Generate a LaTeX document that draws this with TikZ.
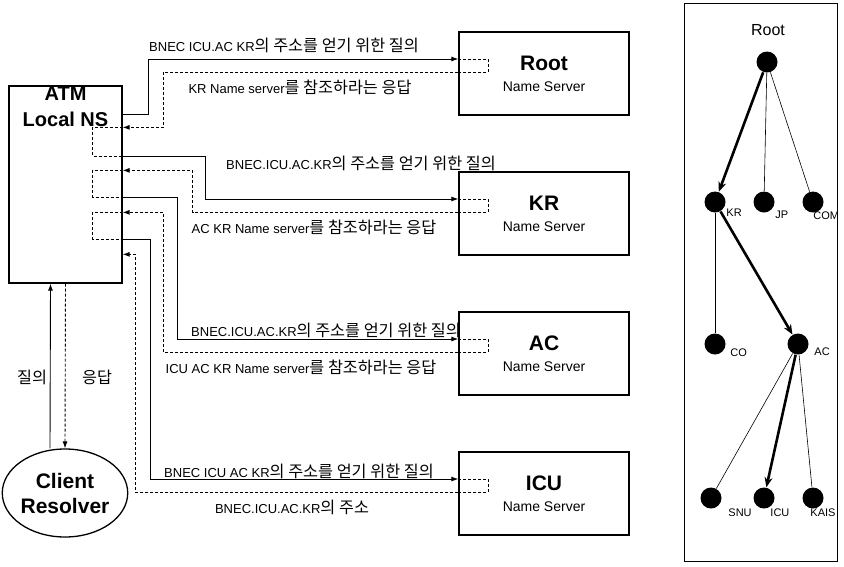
\documentclass[tikz,border=0pt]{standalone}
\usepackage{fontspec}
\setmainfont{Liberation Sans}
\newfontfamily\kr[Scale=1.25]{Noto Sans CJK KR}
\usetikzlibrary{arrows.meta, shapes.geometric, calc}
\tikzset{
  every picture/.style={line width=0.9pt},
  box/.style={draw, line width=1.3pt, align=center, inner sep=0pt},
  server/.style={box, minimum width=170pt, minimum height=83pt, font=\fontsize{14}{21}\selectfont},
  query/.style={-{Latex[length=7pt, width=5pt]}},
  bracket/.style={dash pattern=on 3pt off 2pt},
  reply/.style={bracket, -{Latex[length=7pt, width=5pt]}},
  msg/.style={font=\fontsize{13}{15}\selectfont, inner sep=0pt},
  dot/.style={circle, fill, minimum size=21pt, inner sep=0pt},
  edge/.style={line width=0.6pt},
  hop/.style={line width=2.6pt, -{Stealth[length=10pt, width=8pt]}},
  lbl/.style={font=\fontsize{11}{13}\selectfont, inner sep=0pt},
}

\begin{document}
\begin{tikzpicture}[x=1pt, y=-1pt]
  \useasboundingbox (0,0) rectangle (844,566);
  % local name server and client
  \node[box, minimum width=113pt, minimum height=197pt,
    label={[anchor=north, align=center, inner sep=1pt, font=\fontsize{20}{26}\selectfont\bfseries]north:ATM\\Local NS}]
    (atm) at (65.5,184.5) {};
  \node[box, ellipse, minimum width=114pt, minimum height=88pt, font=\fontsize{21}{25}\selectfont\bfseries]
    (client) at (65,493) {Client\\Resolver};
  \draw[query] ([xshift=-15pt]client.north) -- ([xshift=-15pt]atm.south);
  \draw[reply] (atm.south) -- (client.north);
  \node[msg] (ask) at (32,377) {\kr 질의};
  \node[msg] (answer) at (97,377) {\kr 응답};
  % name servers
  \foreach \n/\t [count=\i] in {root/Root, kr/KR, ac/AC, icu/ICU}
    \node[server] (ns-\n) at (544, 140*\i-66.5)
      {{\fontsize{21}{24}\selectfont\bfseries \t}\\Name Server};
  \foreach \n in {root, kr, ac, icu} {
    \path ([yshift=14.5pt]ns-\n.west) coordinate (\n-in)
          ([yshift=1.5pt]ns-\n.west) coordinate (\n-out);
    \draw[bracket] (\n-in) -- ++(30,0) |- (\n-out);
  }
  % ports on the local name server
  \foreach \n/\d in {q1/29, r1/42, q2/71, r2/85, q3/112, r3/127, q4/154, r4/169}
    \path (atm.north east) ++(0,\d) coordinate (\n);
  \draw[bracket] (r1) -- ++(-30,0) |- (q2);
  \draw[bracket] (r2) -- ++(-30,0) |- (q3);
  \draw[bracket] (r3) -- ++(-30,0) |- (q4);
  % queries and replies
  \draw[query] (q1) -- ++(26,0) |- (root-in);
  \draw[reply] (root-out) -| ([xshift=41pt]r1) -- (r1);
  \draw[query] (q2) -- ++(83,0) |- (kr-in);
  \draw[reply] (kr-out) -| ([xshift=70pt]r2) -- (r2);
  \draw[query] (q3) -- ++(55,0) |- (ac-in);
  \draw[reply] (ac-out) -| ([xshift=41pt]r3) -- (r3);
  \draw[query] (q4) -- ++(28,0) |- (icu-in);
  \draw[reply] (icu-out) -| ([xshift=13pt]r4) -- (r4);
  \node[msg] (m1) at (284,45) {BNEC ICU.AC KR{\kr 의 주소를 얻기 위한 질의}};
  \node[msg] (m1r) at (300,87) {KR Name server{\kr 를 참조하라는 응답}};
  \node[msg] (m2) at (361,163) {BNEC.ICU.AC.KR{\kr 의 주소를 얻기 위한 질의}};
  \node[msg] (m2r) at (314,227) {AC KR Name server{\kr 를 참조하라는 응답}};
  \node[msg] (m3) at (326,330) {BNEC.ICU.AC.KR{\kr 의 주소를 얻기 위한 질의}};
  \node[msg] (m3r) at (301,367) {ICU AC KR Name server{\kr 를 참조하라는 응답}};
  \node[msg] (m4) at (299,471) {BNEC ICU AC KR{\kr 의 주소를 얻기 위한 질의}};
  \node[msg] (m4r) at (292,507) {BNEC.ICU.AC.KR{\kr 의 주소}};
  % domain tree
  \draw[line width=1pt] (684,3) rectangle (837,561);
  \node[font=\fontsize{16}{18}\selectfont] (root-lbl) at (768,30) {Root};
  \node[dot] (root) at (767,62) {};
  \foreach \n/\x/\y in {kr/715/202, jp/764/202, com/813/202, co/715/344, ac/798/344, snu/711/498, icu/764/498, kais/813/498}
    \node[dot] (\n) at (\x,\y) {};
  \foreach \n/\t/\dx/\dy in {kr/KR/11/11, jp/JP/11/13, com/COM/0/14, co/CO/15/9, ac/AC/16/8, snu/SNU/17/15, icu/ICU/6/15, kais/KAIS/-3/15}
    \node[lbl, anchor=west] (\n-lbl) at ($(\n)+(\dx,\dy)$) {\t};
  \draw[hop] (root) -- (kr);
  \draw[edge] (root) -- (jp);
  \draw[edge] (root) -- (com);
  \draw[edge] (kr) -- (co);
  \draw[hop] (kr) -- (ac);
  \draw[edge] (ac) -- (snu);
  \draw[hop] (ac) -- (icu);
  \draw[edge] (ac) -- (kais);
\end{tikzpicture}
\end{document}
